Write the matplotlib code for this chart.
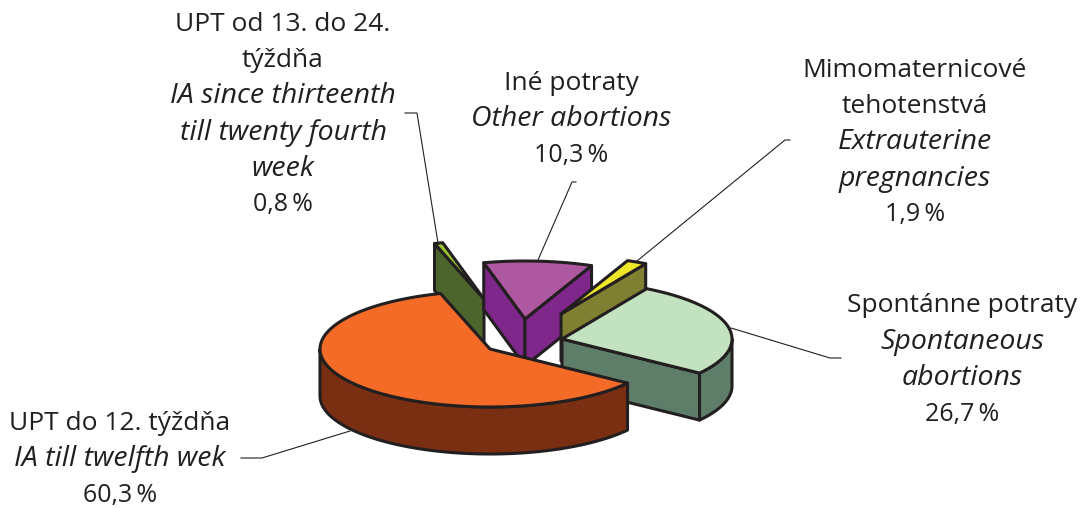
import numpy as np
import matplotlib
matplotlib.use("Agg")
import matplotlib.pyplot as plt
from matplotlib.patches import Polygon

plt.rcParams['font.family'] = ['Open Sans', 'DejaVu Sans']

# clockwise from the front right edge of the big slice
names_sk = ['UPT do 12. týždňa', 'UPT od 13. do 24.\ntýždňa', 'Iné potraty',
            'Mimomaternicové\ntehotenstvá', 'Spontánne potraty']
names_en = ['IA till twelfth wek', 'IA since thirteenth\ntill twenty fourth\nweek', 'Other abortions',
            'Extrauterine\npregnancies', 'Spontaneous\nabortions']
values = [60.3, 0.8, 10.3, 1.9, 26.7]

top_colors = ['#F46B28', '#9AC52E', '#AD58A0', '#EEE829', '#C2E2C0']
side_colors = ['#7A2F13', '#4C652D', '#7F278B', '#7F8032', '#5F7E6A']

# layout, in pixels
apex = [(490, 349), (484, 299), (525, 319), (561, 314), (562, 339)]
label_pos = [(120, 423), (283, 24), (571, 83), (915, 70), (962, 306)]
leaders = [
    [(241, 458), (262, 458), (350, 431)],
    [(405, 113), (417, 113), (438, 243)],
    [(576, 182), (572, 182), (538, 260)],
    [(790, 140), (785, 140), (637, 261)],
    [(731, 328), (830, 358), (841, 358)],
]
RX, RY = 170, 58
DEPTH = 47
START = 126
LINE_H = 36.2
EDGE = '#231F20'


def rim(ox, oy, t):
    t = np.radians(t)
    return np.column_stack([ox + RX * np.sin(t), oy - RY * np.cos(t)])


def face(ax, pts, color, z):
    ax.add_patch(Polygon(pts, closed=True, facecolor=color, edgecolor=EDGE,
                         linewidth=2.2, joinstyle='round', zorder=z))


def draw_slice(ax, i, t0, t1, z):
    ox, oy = apex[i]
    down = np.array([0, DEPTH])
    a = np.array([[ox, oy]])

    # cut faces, only those turned towards the viewer
    if np.sin(np.radians(t0)) < 0:
        p = rim(ox, oy, np.array([t0]))
        face(ax, np.vstack([a, p, p + down, a + down]), side_colors[i], z)
    if np.sin(np.radians(t1)) > 0:
        p = rim(ox, oy, np.array([t1]))
        face(ax, np.vstack([a, p, p + down, a + down]), side_colors[i], z)

    # outer wall, front half of the ellipse only
    for lo, hi in [(90, 270), (450, 630)]:
        w0, w1 = max(t0, lo), min(t1, hi)
        if w1 > w0:
            arc = rim(ox, oy, np.linspace(w0, w1, 80))
            face(ax, np.vstack([arc, arc[::-1] + down]), side_colors[i], z)

    arc = rim(ox, oy, np.linspace(t0, t1, 120))
    face(ax, np.vstack([a, arc]), top_colors[i], z + 0.5)


fig = plt.figure(figsize=(10.85, 5.09), dpi=100)
ax = fig.add_axes([0, 0, 1, 1])
ax.set_xlim(0, 1085)
ax.set_ylim(509, 0)
ax.axis('off')

edges = START + np.cumsum([0] + values) * 3.6
for z, i in enumerate([1, 2, 3, 4, 0]):
    draw_slice(ax, i, edges[i], edges[i + 1], z + 2)

for pts in leaders:
    xs, ys = zip(*pts)
    ax.plot(xs, ys, color=EDGE, lw=0.8, zorder=1)

for i, (x, y) in enumerate(label_pos):
    lines = [(s, 'normal', 19) for s in names_sk[i].split('\n')]
    lines += [(s, 'italic', 20.5) for s in names_en[i].split('\n')]
    lines.append((f'{values[i]:.1f}\u2009%'.replace('.', ','), 'normal', 18))
    for k, (s, style, size) in enumerate(lines):
        ax.text(x, y + k * LINE_H, s, ha='center', va='center', fontsize=size,
                fontstyle=style, color=EDGE)

fig.savefig('out.png', dpi=100)
